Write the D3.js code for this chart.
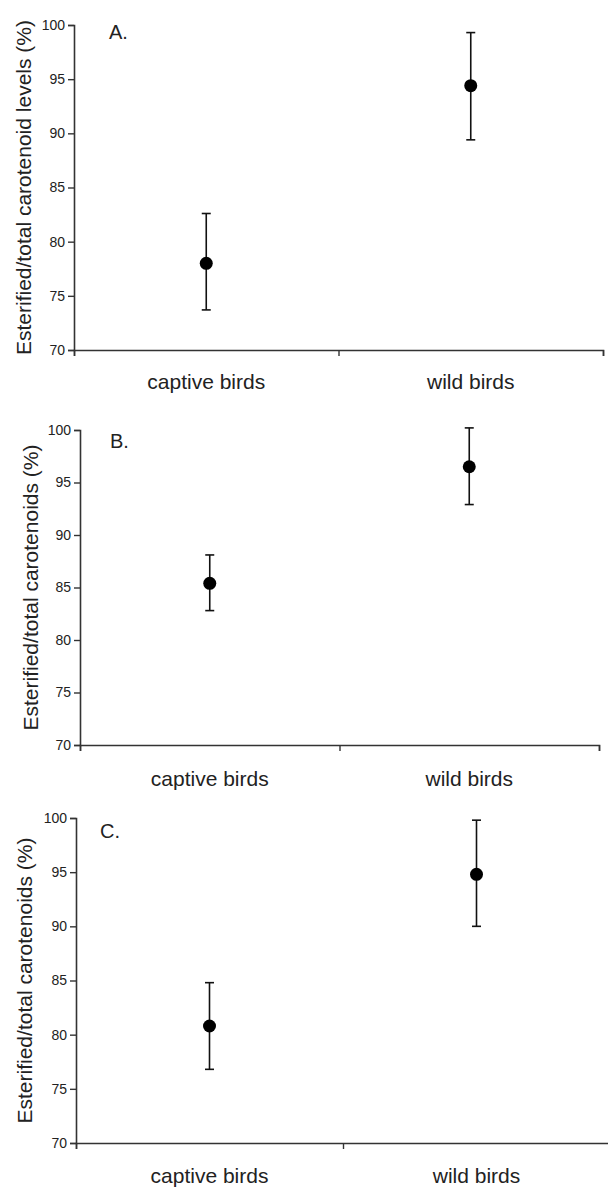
<!DOCTYPE html>
<html>
<head>
<meta charset="utf-8">
<script src="https://cdn.jsdelivr.net/npm/d3@7"></script>
<style>
  body { margin: 0; background: #fff; }
  svg { display: block; font-family: "Liberation Sans", Arial, sans-serif; }
</style>
</head>
<body>
<svg id="chart"></svg>
<script>
// values
var categories = ["captive birds", "wild birds"];
var panelLabels = ["A.", "B.", "C."];
var yTitles = [
    "Esterified/total carotenoid levels (%)",
    "Esterified/total carotenoids (%)",
    "Esterified/total carotenoids (%)"
];
var yTicks = [70, 75, 80, 85, 90, 95, 100];

var meansA = [78.0, 94.4];
var upperA = [82.6, 99.3];
var lowerA = [73.7, 89.4];

var meansB = [85.4, 96.5];
var upperB = [88.1, 100.2];
var lowerB = [82.8, 92.9];

var meansC = [80.8, 94.8];
var upperC = [84.8, 99.8];
var lowerC = [76.8, 90.0];

var width = 608, height = 1190;
var font = "'Liberation Sans', Arial, sans-serif";

var svg = d3.select("#chart")
    .attr("width", width)
    .attr("height", height);

// layout of each panel (pixel box of the plot area)
var panels = [
    { left: 74, right: 603, top: 25, bottom: 350, titleX: 23, labelX: 109, labelY: 39, catY: 389,
      means: meansA, upper: upperA, lower: lowerA },
    { left: 80, right: 599, top: 430, bottom: 745, titleX: 30, labelX: 110, labelY: 448, catY: 786,
      means: meansB, upper: upperB, lower: lowerB },
    { left: 76, right: 610, top: 818, bottom: 1143, titleX: 24, labelX: 100, labelY: 838, catY: 1183,
      means: meansC, upper: upperC, lower: lowerC }
];

panels.forEach(function (p, i) {
    var g = svg.append("g");

    var x = d3.scaleBand().domain(categories).range([p.left, p.right]);
    var y = d3.scaleLinear().domain([70, 100]).range([p.bottom, p.top]);

    // y axis
    var yAxis = g.append("g")
        .attr("transform", "translate(" + p.left + ",0)")
        .call(d3.axisLeft(y).tickValues(yTicks).tickSize(6).tickPadding(3));
    yAxis.attr("font-family", font).attr("font-size", 14);
    yAxis.selectAll("text").attr("fill", "#222");

    // x axis: ticks at band edges, labels drawn separately
    var xAxis = g.append("g")
        .attr("transform", "translate(0," + p.bottom + ")")
        .call(d3.axisBottom(d3.scaleLinear().domain([0, 2]).range([p.left, p.right]))
            .tickValues([0, 1, 2]).tickSize(6).tickFormat(""));

    [yAxis, xAxis].forEach(function (a) {
        a.select(".domain").attr("stroke", "#333").attr("stroke-width", 1.6);
        a.selectAll(".tick line").attr("stroke", "#333").attr("stroke-width", 1.4);
    });

    g.selectAll(".cat")
        .data(categories)
        .enter().append("text")
        .attr("x", function (d) { return x(d) + x.bandwidth() / 2; })
        .attr("y", p.catY)
        .attr("text-anchor", "middle")
        .style("font-size", "21px")
        .attr("fill", "#222")
        .text(function (d) { return d; });

    // y title
    g.append("text")
        .attr("transform", "translate(" + p.titleX + "," + (p.top + p.bottom) / 2 + ") rotate(-90)")
        .attr("text-anchor", "middle")
        .attr("dominant-baseline", "central")
        .style("font-size", "21px")
        .attr("fill", "#222")
        .text(yTitles[i]);

    // panel letter
    g.append("text")
        .attr("x", p.labelX)
        .attr("y", p.labelY)
        .style("font-size", "20px")
        .attr("fill", "#222")
        .text(panelLabels[i]);

    // error bars + means
    var pts = categories.map(function (c, j) {
        return { cat: c, mean: p.means[j], hi: p.upper[j], lo: p.lower[j] };
    });
    var cx = function (d) { return x(d.cat) + x.bandwidth() / 2; };

    var bars = g.selectAll(".err").data(pts).enter().append("g").attr("class", "err");
    bars.append("line")
        .attr("x1", cx).attr("x2", cx)
        .attr("y1", function (d) { return y(d.hi); })
        .attr("y2", function (d) { return y(d.lo); });
    bars.append("line")
        .attr("x1", function (d) { return cx(d) - 4.5; })
        .attr("x2", function (d) { return cx(d) + 4.5; })
        .attr("y1", function (d) { return y(d.hi); })
        .attr("y2", function (d) { return y(d.hi); });
    bars.append("line")
        .attr("x1", function (d) { return cx(d) - 4.5; })
        .attr("x2", function (d) { return cx(d) + 4.5; })
        .attr("y1", function (d) { return y(d.lo); })
        .attr("y2", function (d) { return y(d.lo); });
    bars.selectAll("line").attr("stroke", "#111").attr("stroke-width", 1.6);

    bars.append("circle")
        .attr("cx", cx)
        .attr("cy", function (d) { return y(d.mean); })
        .attr("r", 6.5)
        .attr("fill", "#000");
});
</script>
</body>
</html>
